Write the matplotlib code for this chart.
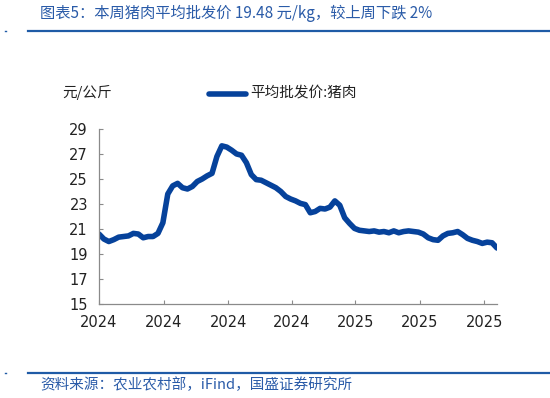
import numpy as np
import pandas as pd
import matplotlib
matplotlib.use("agg")
import matplotlib.pyplot as plt
import matplotlib.dates as mdates
from matplotlib.lines import Line2D

plt.rcParams['font.family'] = ['Noto Sans CJK SC', 'DejaVu Sans']

#### Data (weekly readings) ####
start_date = "2024-03-01"
end_date = "2025-09-19"
pork_price = [
    20.6, 20.2, 20.0, 20.15, 20.35, 20.4, 20.45, 20.65, 20.6, 20.3,
    20.4, 20.4, 20.65, 21.5, 23.8, 24.45, 24.65, 24.3, 24.2, 24.4,
    24.8, 25.0, 25.25, 25.45, 26.8, 27.65, 27.55, 27.3, 27.0, 26.9,
    26.3, 25.35, 24.95, 24.9, 24.7, 24.5, 24.3, 24.0, 23.6, 23.4,
    23.25, 23.05, 22.95, 22.3, 22.4, 22.65, 22.6, 22.75, 23.25, 22.9,
    21.9, 21.45, 21.05, 20.9, 20.85, 20.8, 20.85, 20.75, 20.8, 20.7,
    20.85, 20.7, 20.8, 20.85, 20.8, 20.75, 20.6, 20.3, 20.15, 20.1,
    20.45, 20.65, 20.7, 20.8, 20.55, 20.25, 20.1, 20.0, 19.85, 19.95,
    19.9, 19.48,
]
tick_dates = ["2024-03-01", "2024-06-01", "2024-09-01", "2024-12-01",
              "2025-03-01", "2025-06-01", "2025-09-01"]
y_ticks = [15, 17, 19, 21, 23, 25, 27, 29]

title_text = "图表5：本周猪肉平均批发价 19.48 元/kg，较上周下跌 2%"
source_text = "资料来源：农业农村部，iFind，国盛证券研究所"
unit_text = "元/公斤"
series_name = "平均批发价:猪肉"

blue = "#06429B"
title_blue = "#2A5BA8"

dates = pd.date_range(start_date, end_date, periods=len(pork_price))

fig = plt.figure(figsize=(5.5, 3.98), dpi=100)
ax = fig.add_axes([0.18, 0.236, 0.7236, 0.44])

ax.plot(dates, pork_price, color=blue, lw=4, solid_capstyle="round", solid_joinstyle="round")
ax.set_ylim(15, 29)
ax.set_yticks(y_ticks)
ax.set_xlim(pd.Timestamp(start_date), pd.Timestamp(end_date))
ax.set_xticks(pd.to_datetime(tick_dates))
ax.xaxis.set_major_formatter(mdates.DateFormatter("%Y"))

for s in ["top", "right"]:
    ax.spines[s].set_visible(False)
for s in ["left", "bottom"]:
    ax.spines[s].set_color("#8a8a8a")
    ax.spines[s].set_linewidth(0.9)
ax.tick_params(direction="in", length=3, color="#8a8a8a", labelsize=10.5, labelcolor="#222222", pad=8)
for lab in ax.get_xticklabels() + ax.get_yticklabels():
    lab.set_fontfamily("DejaVu Sans")

# header / footer
fig.text(40 / 550, 1 - 13 / 398, title_text, color=title_blue, fontsize=11, va="center", ha="left")
fig.add_artist(Line2D([28 / 550, 1], [1 - 31 / 398] * 2, color="#1F5BA6", lw=1.6))
fig.add_artist(Line2D([28 / 550, 1], [1 - 373 / 398] * 2, color="#1F5BA6", lw=1.6))
fig.add_artist(Line2D([5 / 550, 6 / 550], [1 - 31 / 398] * 2, color="#1F5BA6", lw=1))
fig.add_artist(Line2D([5 / 550, 6 / 550], [1 - 373 / 398] * 2, color="#1F5BA6", lw=1))
fig.text(40 / 550, 1 - 385 / 398, source_text, color=title_blue, fontsize=10.5, va="center", ha="left")

# unit and legend
fig.text(62 / 550, 1 - 92 / 398, unit_text, fontsize=10.5, color="#222222", va="center", ha="left")
fig.add_artist(Line2D([209 / 550, 246 / 550], [1 - 94 / 398] * 2, color=blue, lw=4, solid_capstyle="round"))
fig.text(250 / 550, 1 - 93 / 398, series_name, fontsize=10.5, color="#222222", va="center", ha="left")

fig.savefig("out.png", dpi=100)
